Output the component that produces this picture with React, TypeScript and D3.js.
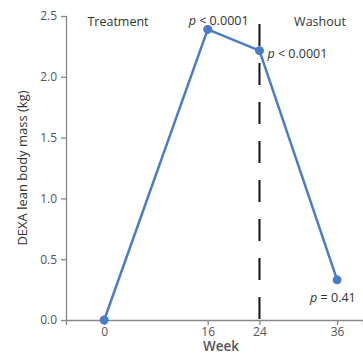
import React, { useEffect, useRef } from "react";
import * as d3 from "d3";

// data
const weeks = [0, 16, 24, 36];
const leanMass = [0, 2.39, 2.215, 0.33];
const pLabels = ["", "p < 0.0001", "p < 0.0001", "p = 0.41"];
const xTicks = [0, 16, 24, 36];
const yTicks = [0, 0.5, 1.0, 1.5, 2.0, 2.5];
const phaseLabels = ["Treatment", "Washout"];

const W = 363;
const H = 354;
const FONT = "'Open Sans', 'Noto Sans', sans-serif";
const BLUE = "#4a7dc3";
const GREY = "#555";

export default function App() {
  const svgRef = useRef<SVGSVGElement | null>(null);

  useEffect(() => {
    const svg = d3.select(svgRef.current);
    svg.selectAll("*").remove();

    const x = d3.scaleLinear().domain([-5.9, 40]).range([66, 363]);
    const y = d3.scaleLinear().domain([0, 2.5]).range([320, 16]);

    //y axis
    const yAxis = svg
      .append("g")
      .attr("transform", `translate(${x(-5.9)},0)`)
      .call(
        d3
          .axisLeft(y)
          .tickValues(yTicks)
          .tickFormat(d3.format(".1f"))
          .tickSize(5)
          .tickPadding(4)
      );

    //x axis
    const xAxis = svg
      .append("g")
      .attr("transform", `translate(0,${y(0)})`)
      .call(
        d3
          .axisBottom(x)
          .tickValues(xTicks)
          .tickFormat(d3.format("d"))
          .tickSize(5)
          .tickPadding(2)
      );

    [yAxis, xAxis].forEach(g => {
      g.select(".domain").attr("stroke", "#888").attr("stroke-width", 1.3);
      g.selectAll(".tick line").attr("stroke", "#888").attr("stroke-width", 1.3);
      g.selectAll(".tick text")
        .attr("fill", GREY)
        .style("font-family", FONT)
        .style("font-size", "12px");
    });
    yAxis.select(".domain").attr("d", `M0.5,${y(2.5)}V${y(0)}`);

    //dashed phase divider at week 24
    svg
      .append("line")
      .attr("x1", x(24))
      .attr("x2", x(24))
      .attr("y1", 24)
      .attr("y2", y(0))
      .attr("stroke", "#111")
      .attr("stroke-width", 2)
      .attr("stroke-dasharray", "22,17");

    const pts = weeks.map((w, i) => ({ w, v: leanMass[i], p: pLabels[i] }));

    const line = d3
      .line<{ w: number; v: number }>()
      .x(d => x(d.w))
      .y(d => y(d.v));

    svg
      .append("path")
      .datum(pts)
      .attr("d", line)
      .attr("fill", "none")
      .attr("stroke", BLUE)
      .attr("stroke-width", 2.5);

    svg
      .selectAll("circle.pt")
      .data(pts)
      .enter()
      .append("circle")
      .attr("class", "pt")
      .attr("cx", d => x(d.w))
      .attr("cy", d => y(d.v))
      .attr("r", 4.5)
      .attr("fill", BLUE);

    //p-value labels
    const pOffsets = [
      [0, 0],
      [-19, -4],
      [8, 7],
      [-27, 22]
    ];
    pts.forEach((d, i) => {
      if (!d.p) return;
      const t = svg
        .append("text")
        .attr("x", x(d.w) + pOffsets[i][0])
        .attr("y", y(d.v) + pOffsets[i][1])
        .attr("fill", "#333")
        .style("font-family", FONT)
        .style("font-size", "12.5px");
      const [sym, ...rest] = d.p.split(" ");
      t.append("tspan").attr("font-style", "italic").text(sym);
      t.append("tspan").text(" " + rest.join(" "));
    });

    //phase labels
    svg
      .append("text")
      .attr("x", 118)
      .attr("y", 26)
      .attr("text-anchor", "middle")
      .attr("fill", "#333")
      .style("font-family", FONT)
      .style("font-size", "12.5px")
      .text(phaseLabels[0]);
    svg
      .append("text")
      .attr("x", 320)
      .attr("y", 26)
      .attr("text-anchor", "middle")
      .attr("fill", "#333")
      .style("font-family", FONT)
      .style("font-size", "12.5px")
      .text(phaseLabels[1]);

    //axis titles
    svg
      .append("text")
      .attr("x", 221)
      .attr("y", 351)
      .attr("text-anchor", "middle")
      .attr("fill", GREY)
      .style("font-family", FONT)
      .style("font-size", "13.5px")
      .style("font-weight", 600)
      .text("Week");
    svg
      .append("text")
      .attr("transform", `translate(27,${(y(0) + y(2.5)) / 2}) rotate(-90)`)
      .attr("text-anchor", "middle")
      .attr("fill", "#333")
      .style("font-family", FONT)
      .style("font-size", "13px")
      .text("DEXA lean body mass (kg)");
  }, []);

  return (
    <svg
      ref={svgRef}
      width={W}
      height={H}
      style={{ position: "absolute", left: 0, top: 0, background: "#fff" }}
    />
  );
}
